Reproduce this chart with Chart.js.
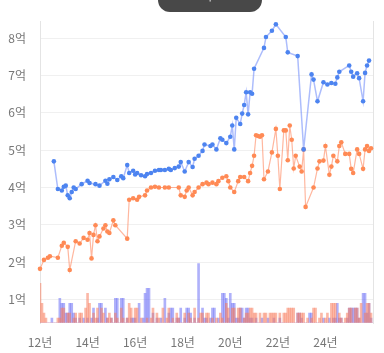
<!DOCTYPE html>
<html lang="ko">
<head>
<meta charset="utf-8">
<script src="https://cdn.jsdelivr.net/npm/chart.js@4"></script>
<style>
  html, body { margin: 0; padding: 0; background: #fff; }
  #wrap { position: relative; width: 384px; height: 353px; overflow: hidden; }
  #badge {
    position: absolute; left: 158px; top: -16px; width: 104px; height: 28px;
    background: #484848; border-radius: 12px; color: #fff; text-align: center;
    font: 12px "Noto Sans CJK KR", sans-serif; line-height: 14px; padding-top: 2px; box-sizing: border-box;
  }
</style>
</head>
<body>
<div id="wrap">
  <canvas id="chart" width="384" height="353"></canvas>
  <div id="badge">매매 | 전세</div>
</div>
<script>
// monthly categories 2012-01 .. 2026-01
const months = [];
for (let y = 2012; y <= 2026; y++) {
  for (let m = 1; m <= 12; m++) {
    if (y === 2026 && m > 1) break;
    months.push(y + "-" + String(m).padStart(2, "0"));
  }
}

const yearTicks = ["2012-01", "2014-01", "2016-01", "2018-01", "2020-01", "2022-01", "2024-01"];
const yearTickLabels = ["12년", "14년", "16년", "18년", "20년", "22년", "24년"];
const priceTicks = [1, 2, 3, 4, 5, 6, 7, 8];

// 매매 (억)
const saleMonths = [
  "2012-08","2012-10","2012-12","2013-01","2013-02","2013-03","2013-04","2013-05","2013-06","2013-07",
  "2013-10","2014-01","2014-02","2014-05","2014-07","2014-10","2014-11","2014-12","2015-02","2015-04",
  "2015-06","2015-07","2015-09","2015-10","2015-12","2016-01","2016-02","2016-04","2016-06","2016-07",
  "2016-09","2016-11","2017-01","2017-02","2017-04","2017-06","2017-07","2017-09","2017-11","2017-12",
  "2018-02","2018-04","2018-06","2018-07","2018-09","2018-11","2018-12","2019-03","2019-04","2019-06",
  "2019-08","2019-09","2019-11","2020-01","2020-02","2020-03","2020-04","2020-06","2020-07","2020-08",
  "2020-09","2020-10","2020-11","2020-12","2021-01","2021-06","2021-07","2021-10","2021-12","2022-05",
  "2022-06","2022-11","2023-02","2023-06","2023-07","2023-09","2023-12","2024-02","2024-04","2024-06",
  "2024-07","2024-08","2025-01","2025-02","2025-03","2025-05","2025-06","2025-08","2025-09","2025-10",
  "2025-11"
];
const salePrices = [
  4.70, 3.96, 3.92, 4.02, 4.05, 3.79, 3.71, 3.88, 4.00, 3.96,
  4.09, 4.18, 4.12, 4.09, 4.05, 4.18, 4.10, 4.22, 4.28, 4.20,
  4.30, 4.25, 4.60, 4.39, 4.45, 4.35, 4.39, 4.33, 4.30, 4.36,
  4.39, 4.45, 4.47, 4.47, 4.47, 4.50, 4.47, 4.52, 4.56, 4.68,
  4.43, 4.68, 4.55, 4.77, 4.85, 4.98, 5.15, 5.11, 5.15, 5.02,
  5.32, 5.28, 5.19, 5.36, 5.66, 5.02, 5.87, 5.70, 5.98, 6.21,
  6.55, 5.96, 6.55, 6.51, 7.18, 7.74, 8.03, 8.20, 8.37, 8.03,
  7.62, 7.52, 5.02, 7.03, 6.89, 6.31, 6.82, 6.76, 6.80, 6.78,
  6.95, 7.10, 7.27, 7.10, 6.97, 7.06, 6.93, 6.31, 7.07, 7.27,
  7.40
];

// 전세 (억)
const rentMonths = [
  "2012-01","2012-03","2012-05","2012-06","2012-10","2012-12","2013-01","2013-03","2013-04","2013-07",
  "2013-09","2013-11","2014-01","2014-02","2014-03","2014-04","2014-05","2014-06","2014-07","2014-09",
  "2014-10","2014-11","2014-12","2015-02","2015-03","2015-09","2015-10","2015-12","2016-02","2016-03",
  "2016-06","2016-07","2016-09","2016-11","2017-01","2017-04","2017-06","2017-11","2017-12","2018-02",
  "2018-03","2018-04","2018-06","2018-07","2018-09","2018-11","2019-01","2019-02","2019-04","2019-06",
  "2019-07","2019-09","2019-11","2019-12","2020-01","2020-03","2020-05","2020-06","2020-08","2020-10",
  "2020-11","2020-12","2021-01","2021-02","2021-03","2021-04","2021-05","2021-06","2021-08","2021-10",
  "2021-12","2022-01","2022-02","2022-04","2022-05","2022-06","2022-07","2022-08","2022-09","2022-10",
  "2022-12","2023-01","2023-02","2023-03","2023-07","2023-09","2023-10","2023-12","2024-01","2024-03",
  "2024-04","2024-05","2024-07","2024-08","2024-09","2024-11","2025-01","2025-02","2025-03","2025-05",
  "2025-06","2025-08","2025-09","2025-10","2025-11","2025-12"
];
const rentPrices = [
  1.82, 2.06, 2.12, 2.16, 2.12, 2.44, 2.52, 2.41, 1.79, 2.56,
  2.50, 2.65, 2.60, 2.78, 2.10, 2.73, 2.99, 2.56, 2.69, 2.90,
  2.99, 2.82, 2.78, 3.12, 2.99, 2.63, 3.67, 3.71, 3.67, 3.75,
  3.79, 3.92, 4.00, 4.02, 4.00, 4.00, 4.00, 4.00, 3.79, 3.75,
  3.92, 4.00, 3.79, 3.88, 4.00, 4.09, 4.13, 4.09, 4.13, 4.09,
  4.17, 4.26, 4.30, 4.17, 4.00, 3.88, 4.17, 4.28, 4.28, 4.17,
  4.39, 4.58, 4.85, 5.40, 5.38, 5.36, 5.40, 4.22, 4.43, 4.94,
  5.57, 4.85, 3.96, 5.53, 5.53, 4.73, 5.66, 5.28, 4.51, 4.85,
  4.56, 4.43, 5.02, 3.48, 4.00, 4.51, 4.70, 4.72, 5.11, 4.34,
  4.56, 4.85, 4.70, 5.11, 5.21, 4.90, 4.90, 4.50, 4.39, 5.02,
  4.90, 4.50, 5.02, 5.11, 4.98, 5.05
];

// 월별 거래량 (건), one per month 2012-01 .. 2026-01
const rentCounts = [
  8,4,2,1,0,0,0,0,0,1,1,3,
  3,0,2,2,0,1,2,0,2,2,0,3,
  6,4,0,2,1,3,0,3,2,0,1,2,
  1,0,2,1,0,3,1,0,1,4,3,0,
  3,3,0,1,0,0,1,0,1,3,0,2,
  1,0,3,0,1,3,0,1,0,2,1,0,
  0,2,0,2,1,0,3,0,1,2,2,0,
  2,2,0,1,0,1,0,2,1,0,4,3,
  0,3,3,0,3,3,0,1,2,2,3,3,
  2,2,0,2,0,2,2,0,2,2,2,2,
  0,2,0,2,2,3,3,3,3,0,2,2,
  2,2,0,1,0,1,3,3,0,1,2,0,
  1,2,0,4,4,4,0,2,1,0,1,2,
  3,3,0,3,3,1,4,0,2,4,4,2,
  0
];
const saleCounts = [
  0,0,0,0,0,0,1,0,0,0,5,4,
  4,2,2,4,4,2,1,0,1,0,1,0,
  1,0,1,3,0,1,4,4,0,3,1,0,
  1,0,5,5,0,5,5,0,1,0,1,1,
  1,0,4,0,1,6,7,7,0,2,0,1,
  0,1,0,5,0,2,3,3,0,1,1,3,
  0,1,3,3,2,0,1,0,12,0,3,1,
  1,0,1,3,3,0,1,0,6,6,5,1,
  6,4,4,1,1,3,3,1,3,3,1,1,
  0,1,0,0,1,0,0,1,0,0,1,0,
  0,1,0,0,0,0,0,0,0,0,2,2,
  1,0,0,0,2,2,0,0,0,0,0,1,
  0,0,1,0,1,1,4,1,1,0,0,1,
  3,3,3,3,3,1,0,6,6,2,4,1,
  0
];

const tickColor = "#777";
const tickFont = { family: "'Noto Sans CJK KR', 'Noto Sans', sans-serif", size: 12 };

new Chart(document.getElementById("chart"), {
  type: "line",
  data: {
    labels: months,
    datasets: [
      {
        label: "매매",
        data: saleMonths.map((m, i) => ({ x: m, y: salePrices[i] })),
        borderColor: "rgba(105,135,250,0.55)",
        borderWidth: 1.5,
        pointBackgroundColor: "#4d84f0",
        pointBorderWidth: 0,
        pointRadius: 2.3,
        yAxisID: "y",
        order: 1,
      },
      {
        label: "전세",
        data: rentMonths.map((m, i) => ({ x: m, y: rentPrices[i] })),
        borderColor: "rgba(255,135,95,0.6)",
        borderWidth: 1.2,
        pointBackgroundColor: "#ff8a55",
        pointBorderWidth: 0,
        pointRadius: 2.3,
        yAxisID: "y",
        order: 1,
      },
      {
        type: "bar",
        label: "전세 거래량",
        data: rentCounts,
        backgroundColor: "rgba(248,125,95,0.55)",
        yAxisID: "y1",
        grouped: false,
        barPercentage: 1,
        categoryPercentage: 1,
        order: 2,
      },
      {
        type: "bar",
        label: "매매 거래량",
        data: saleCounts,
        backgroundColor: "rgba(95,100,245,0.5)",
        yAxisID: "y1",
        grouped: false,
        barPercentage: 1,
        categoryPercentage: 1,
        order: 2,
      },
    ],
  },
  options: {
    responsive: false,
    animation: false,
    layout: { padding: { top: 5 } },
    plugins: { legend: { display: false }, tooltip: { enabled: false } },
    scales: {
      x: {
        type: "category",
        offset: false,
        grid: { display: false, drawTicks: false },
        border: { display: false },
        afterBuildTicks: (s) => {
          s.ticks = yearTicks.map((m) => ({ value: months.indexOf(m) }));
        },
        afterFit: (s) => { s.height = 30; },
        ticks: {
          autoSkip: false,
          maxRotation: 0,
          padding: 12,
          color: tickColor,
          font: tickFont,
          callback: (v) => yearTickLabels[yearTicks.indexOf(months[v])],
        },
      },
      y: {
        position: "left",
        min: 0.37,
        max: 8.455,
        bounds: "data",
        afterBuildTicks: (s) => {
          s.ticks = priceTicks.map((v) => ({ value: v }));
        },
        afterFit: (s) => { s.width = 40; },
        grid: { color: "#f0f0f0", drawTicks: false },
        border: { color: "#e4e4e4" },
        ticks: {
          padding: 14,
          color: tickColor,
          font: tickFont,
          callback: (v) => v + "억",
        },
      },
      y1: {
        position: "right",
        min: 0,
        max: 61,
        afterFit: (s) => { s.width = 11; },
        grid: { drawOnChartArea: false, drawTicks: false },
        border: { color: "#e4e4e4" },
        ticks: { display: false },
      },
    },
  },
});
</script>
</body>
</html>
